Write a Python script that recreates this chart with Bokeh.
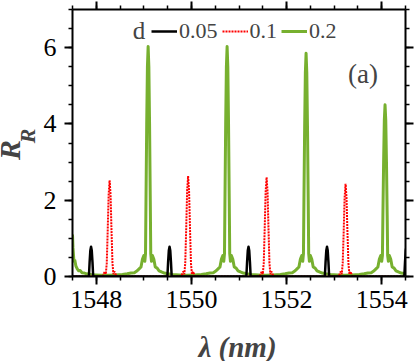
from math import pi
from bokeh.plotting import figure
from bokeh.models import Range1d, LinearAxis, FixedTicker, Label, CustomJSTickFormatter
from bokeh.layouts import row, column
from bokeh.embed import file_html
from bokeh.resources import INLINE

# ---------------- data ----------------
x_ticks = [1548, 1550, 1552, 1554]
x_minor = [1547.5, 1548.0, 1548.5, 1549.0, 1549.5, 1550.0, 1550.5, 1551.0, 1551.5,
           1552.0, 1552.5, 1553.0, 1553.5, 1554.0, 1554.5]
y_ticks = [0, 2, 4, 6]
y_minor = [0, 0.5, 1, 1.5, 2, 2.5, 3, 3.5, 4, 4.5, 5, 5.5, 6, 6.5, 7]

legend_labels = ["0.05", "0.1", "0.2"]

# d = 0.05 (black)
x_d005 = [1547.50, 1547.845, 1547.86, 1547.875, 1547.89, 1547.905, 1547.92, 1547.935,
          1549.495, 1549.51, 1549.525, 1549.54, 1549.555, 1549.57, 1549.585,
          1551.155, 1551.17, 1551.185, 1551.20, 1551.215, 1551.23, 1551.245,
          1552.805, 1552.82, 1552.835, 1552.85, 1552.865, 1552.88, 1552.895,
          1554.475, 1554.49, 1554.505, 1554.52]
y_d005 = [0, 0, 0.38, 0.68, 0.78, 0.68, 0.38, 0,
          0, 0.38, 0.68, 0.78, 0.68, 0.38, 0,
          0, 0.38, 0.68, 0.78, 0.68, 0.38, 0,
          0, 0.38, 0.68, 0.78, 0.68, 0.38, 0,
          0, 0.38, 0.68, 0.78]

# d = 0.1 (red dotted)
x_d01 = [1547.50, 1547.98, 1548.14, 1548.16, 1548.18, 1548.20, 1548.22, 1548.24, 1548.26, 1548.28,
         1548.30, 1548.32, 1548.34, 1548.36, 1548.38, 1548.40, 1548.42, 1548.58,
         1549.63, 1549.79, 1549.81, 1549.83, 1549.85, 1549.87, 1549.89, 1549.91, 1549.93,
         1549.95, 1549.97, 1549.99, 1550.01, 1550.03, 1550.05, 1550.07, 1550.23,
         1551.28, 1551.44, 1551.46, 1551.48, 1551.50, 1551.52, 1551.54, 1551.56, 1551.58,
         1551.60, 1551.62, 1551.64, 1551.66, 1551.68, 1551.70, 1551.72, 1551.88,
         1552.94, 1553.10, 1553.12, 1553.14, 1553.16, 1553.18, 1553.20, 1553.22, 1553.24,
         1553.26, 1553.28, 1553.30, 1553.32, 1553.34, 1553.36, 1553.38, 1553.54, 1554.50]
y_d01 = [0, 0, 0.01, 0.08, 0.13, 0.06, 0.35, 1.2, 2.15, 2.52,
         2.15, 1.2, 0.35, 0.06, 0.13, 0.08, 0.01, 0,
         0, 0.01, 0.08, 0.13, 0.06, 0.35, 1.25, 2.25, 2.63,
         2.25, 1.25, 0.35, 0.06, 0.13, 0.08, 0.01, 0,
         0, 0.01, 0.08, 0.13, 0.06, 0.35, 1.25, 2.22, 2.60,
         2.22, 1.25, 0.35, 0.06, 0.13, 0.08, 0.01, 0,
         0, 0.01, 0.08, 0.13, 0.06, 0.35, 1.15, 2.07, 2.43,
         2.07, 1.15, 0.35, 0.06, 0.13, 0.08, 0.01, 0, 0]

# d = 0.2 (green)
x_d02 = [1547.50, 1547.51, 1547.53, 1547.55, 1547.57, 1547.60, 1547.63, 1547.66, 1547.70, 1547.75,
         1547.80, 1547.88, 1547.98, 1548.10, 1548.25, 1548.40, 1548.55, 1548.65, 1548.73, 1548.80,
         1548.86, 1548.90, 1548.94, 1548.97, 1549.00, 1549.02, 1549.035, 1549.045, 1549.06, 1549.075,
         1549.09, 1549.105, 1549.12, 1549.135, 1549.145, 1549.16, 1549.18, 1549.21, 1549.24, 1549.28,
         1549.32, 1549.37, 1549.43, 1549.50, 1549.60, 1549.75, 1549.90,
         1550.06, 1550.21, 1550.31, 1550.39, 1550.46, 1550.52, 1550.56, 1550.60, 1550.63, 1550.66,
         1550.68, 1550.695, 1550.705, 1550.72, 1550.735, 1550.75, 1550.765, 1550.78, 1550.795, 1550.805,
         1550.82, 1550.84, 1550.87, 1550.90, 1550.94, 1550.98, 1551.03, 1551.09, 1551.16, 1551.26,
         1551.41, 1551.56,
         1551.72, 1551.87, 1551.97, 1552.05, 1552.12, 1552.18, 1552.22, 1552.26, 1552.29, 1552.32,
         1552.34, 1552.355, 1552.365, 1552.38, 1552.395, 1552.41, 1552.425, 1552.44, 1552.455, 1552.465,
         1552.48, 1552.50, 1552.53, 1552.56, 1552.60, 1552.64, 1552.69, 1552.75, 1552.82, 1552.92,
         1553.07, 1553.22,
         1553.38, 1553.53, 1553.63, 1553.71, 1553.78, 1553.84, 1553.88, 1553.92, 1553.95, 1553.98,
         1554.00, 1554.015, 1554.025, 1554.04, 1554.055, 1554.07, 1554.085, 1554.10, 1554.115, 1554.125,
         1554.14, 1554.16, 1554.19, 1554.22, 1554.26, 1554.30, 1554.35, 1554.41, 1554.50]
y_d02 = [1.10, 0.75, 0.40, 0.42, 0.28, 0.20, 0.15, 0.16, 0.10, 0.09,
         0.07, 0.05, 0.04, 0.03, 0.03, 0.04, 0.05, 0.07, 0.09, 0.10,
         0.15, 0.20, 0.25, 0.45, 0.55, 0.40, 0.60, 2.0, 4.0, 5.5,
         6.03, 5.5, 4.0, 2.0, 0.60, 0.40, 0.55, 0.45, 0.25, 0.22,
         0.15, 0.12, 0.09, 0.07, 0.05, 0.04, 0.03,
         0.04, 0.05, 0.07, 0.09, 0.10, 0.15, 0.20, 0.25, 0.45, 0.55,
         0.40, 0.60, 2.0, 4.0, 5.5, 6.03, 5.5, 4.0, 2.0, 0.60,
         0.40, 0.55, 0.45, 0.25, 0.22, 0.15, 0.12, 0.09, 0.07, 0.05,
         0.04, 0.03,
         0.04, 0.05, 0.07, 0.09, 0.10, 0.15, 0.20, 0.25, 0.45, 0.55,
         0.40, 0.60, 2.0, 3.9, 5.35, 5.85, 5.35, 3.9, 2.0, 0.60,
         0.40, 0.55, 0.45, 0.25, 0.22, 0.15, 0.12, 0.09, 0.07, 0.05,
         0.04, 0.03,
         0.04, 0.05, 0.07, 0.09, 0.10, 0.15, 0.20, 0.25, 0.45, 0.55,
         0.40, 0.55, 1.6, 3.0, 4.1, 4.5, 4.1, 3.0, 1.6, 0.55,
         0.40, 0.55, 0.45, 0.25, 0.22, 0.15, 0.12, 0.09, 0.07]

# ---------------- figures ----------------
FONT = "Liberation Serif"

def bare(fig):
    fig.xgrid.visible = False
    fig.ygrid.visible = False
    fig.outline_line_color = None
    fig.background_fill_color = "white"
    fig.border_fill_color = "white"

# main plot
p = figure(width=375, height=321, output_backend="svg", toolbar_location=None,
           x_range=Range1d(1547.5, 1554.5), y_range=Range1d(0, 7),
           x_axis_location=None, y_axis_location=None,
           min_border_left=32, min_border_right=10, min_border_top=9, min_border_bottom=45)
bare(p)

bottom_ax = LinearAxis()
left_ax = LinearAxis()
top_ax = LinearAxis()
right_ax = LinearAxis()
p.add_layout(bottom_ax, "below")
p.add_layout(left_ax, "left")
p.add_layout(top_ax, "above")
p.add_layout(right_ax, "right")

def style(ax, ticks, minor, show_labels):
    ax.ticker = FixedTicker(ticks=ticks, minor_ticks=minor)
    ax.axis_line_width = 2
    ax.axis_line_color = "black"
    ax.major_tick_line_width = 2
    ax.major_tick_out = 8
    ax.major_tick_in = 0
    ax.minor_tick_line_width = 1.5
    ax.minor_tick_out = 4
    ax.minor_tick_in = 0
    ax.major_label_text_font = FONT
    ax.major_label_text_font_size = "26px"
    ax.major_label_text_color = "black"
    if not show_labels:
        ax.formatter = CustomJSTickFormatter(code="return ''")
        ax.major_label_standoff = 0

style(bottom_ax, x_ticks, x_minor, True)
style(left_ax, y_ticks, y_minor, True)
style(top_ax, x_ticks, x_minor, False)
style(right_ax, y_ticks, y_minor, False)
bottom_ax.major_label_standoff = 6
left_ax.major_label_standoff = 8

g = p.line(x_d02, y_d02, line_color="#77b02f", line_width=3, line_join="round",
           legend_label=legend_labels[2])
r = p.line(x_d01, y_d01, line_color="#ff0000", line_width=2, line_dash="2 1",
           legend_label=legend_labels[1])
b = p.line(x_d005, y_d005, line_color="black", line_width=2.5, line_join="round",
           legend_label=legend_labels[0])

leg = p.legend[0]
leg.items = list(reversed(leg.items))
leg.orientation = "horizontal"
leg.location = (79, 232)
leg.padding = 0
leg.margin = 0
leg.spacing = 4
leg.glyph_width = 26
leg.label_standoff = 2
leg.border_line_color = None
leg.background_fill_alpha = 0
leg.label_text_font = FONT
leg.label_text_font_size = "22px"

p.add_layout(Label(x=1548.898, y=6.45, text="d", text_font=FONT, text_font_size="25px",
                   text_align="center", text_baseline="middle"))
p.add_layout(Label(x=1553.607, y=5.31, text="(a)", text_font=FONT, text_font_size="27px",
                   text_align="center", text_baseline="middle"))

# strip on the left holding the y-axis title R_R (pixel coordinates)
yfig = figure(width=40, height=321, output_backend="svg", toolbar_location=None,
              x_range=Range1d(0, 40), y_range=Range1d(321, 0),
              x_axis_location=None, y_axis_location=None,
              min_border_left=0, min_border_right=0, min_border_top=0, min_border_bottom=0)
bare(yfig)
yfig.add_layout(Label(x=9, y=169, text="R", angle=pi / 2, text_font=FONT,
                      text_font_style="bold italic", text_font_size="30px",
                      text_align="center", text_baseline="middle"))
yfig.add_layout(Label(x=27, y=152, text="R", angle=pi / 2, text_font=FONT,
                      text_font_style="bold italic", text_font_size="22px",
                      text_align="center", text_baseline="middle"))

# strip below holding the x-axis title
xfig = figure(width=415, height=40, output_backend="svg", toolbar_location=None,
              x_range=Range1d(0, 415), y_range=Range1d(40, 0),
              x_axis_location=None, y_axis_location=None,
              min_border_left=0, min_border_right=0, min_border_top=0, min_border_bottom=0)
bare(xfig)
xfig.add_layout(Label(x=237, y=25, text="λ (nm)", text_font=FONT,
                      text_font_style="bold italic", text_font_size="29px",
                      text_align="center", text_baseline="middle"))

layout = column(row(yfig, p, spacing=0), xfig, spacing=0)

open("out.html", "w").write(file_html(layout, INLINE))
